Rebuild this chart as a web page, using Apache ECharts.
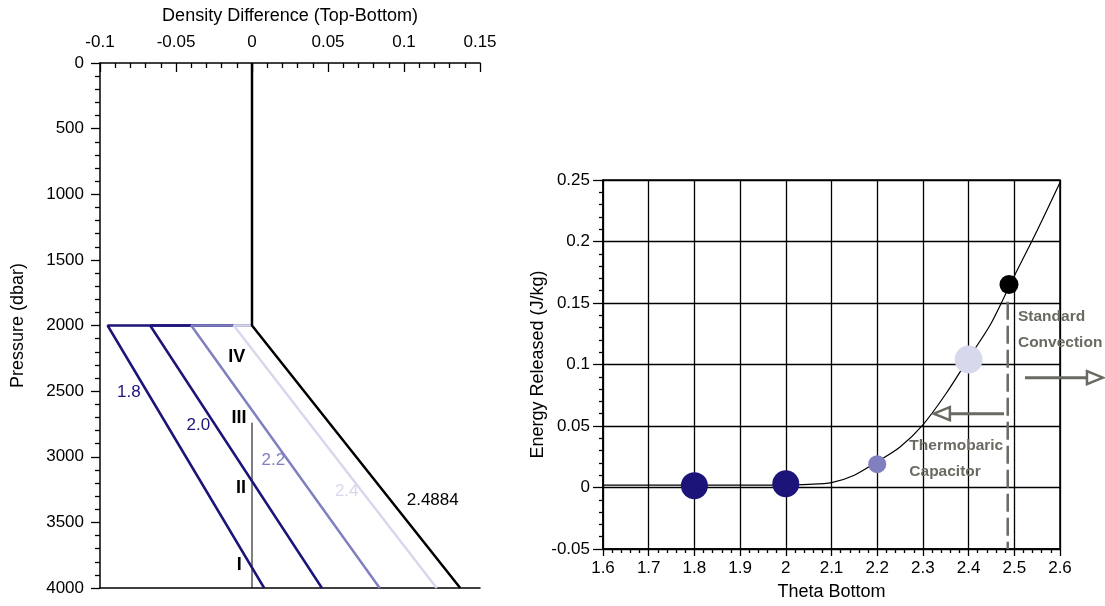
<!DOCTYPE html>
<html><head><meta charset="utf-8">
<script src="https://cdn.jsdelivr.net/npm/echarts@6/dist/echarts.min.js"></script>
<style>html,body{margin:0;padding:0;background:#fff}#c{width:1105px;height:606px}</style>
</head><body><div id="c"></div>
<script>
// ---------- Left panel data: density difference profiles ----------
const profileNames   = ['1.8', '2.0', '2.2', '2.4', '2.4884'];
const densityAt2000  = [-0.095, -0.067, -0.040, -0.012, 0];
const densityAt4000  = [0.008, 0.046, 0.084, 0.1215, 0.137];
const pressureTop    = 0;
const pressureKink   = 2000;
const pressureBottom = 4000;
const refLineP       = [2740, 4000];          // thin reference line at zero
const profileLabelX  = [-0.081, -0.0353, 0.014, 0.0623, 0.1189];
const profileLabelP  = [2509, 2758, 3030, 3266, 3330];
const regimeNames    = ['IV', 'III', 'II', 'I'];
const regimeLabelX   = [-0.010, -0.0086, -0.0072, -0.0084];
const regimeLabelP   = [2242, 2707, 3236, 3825];

// ---------- Right panel data: energy released ----------
const thetaCurve  = [1.6, 1.7, 1.8, 1.9, 2.0, 2.05, 2.1, 2.15, 2.2, 2.25, 2.3, 2.35, 2.4, 2.45, 2.5, 2.55, 2.6];
const energyCurve = [0.002, 0.002, 0.002, 0.002, 0.002, 0.0025, 0.004, 0.010, 0.021, 0.033, 0.051, 0.076, 0.105, 0.134, 0.172, 0.209, 0.248];
const thetaDots   = [1.8, 2.0, 2.2, 2.4, 2.4884];
const energyDots  = [0.0015, 0.003, 0.019, 0.104, 0.165];
const criticalTheta = 2.4856;
const criticalEnergyRange = [0.151, -0.05];
const arrowLeftFrom  = [2.4775, 0.060];
const arrowLeftTo    = [2.324, 0.060];
const arrowRightFrom = [2.5234, 0.0893];
const arrowRightTo   = [2.694, 0.0893];
const annotLines  = ['Standard', 'Convection', 'Thermobaric', 'Capacitor'];
const annotTheta  = [2.508, 2.508, 2.2703, 2.2703];
const annotEnergy = [0.139, 0.1177, 0.0342, 0.0131];

// ---------- Styles ----------
const profileColors = ['#1c1478', '#1c1478', '#8080c0', '#d8d8ec', '#000000'];
const dotColors     = ['#1c1478', '#1c1478', '#8080c0', '#d8d8ec', '#000000'];
const dotSizes      = [27, 27, 18, 28, 19];
const FONT = "'Liberation Sans', Arial, sans-serif";
const annotColor = '#6a6a62';

const chart = echarts.init(document.getElementById('c'), null, {renderer: 'canvas'});

const series = [];
profileNames.forEach((n, i) => {
  const last = i === profileNames.length - 1;
  const data = last
    ? [[0, pressureTop], [0, pressureKink], [densityAt4000[i], pressureBottom]]
    : [[0, pressureKink], [densityAt2000[i], pressureKink], [densityAt4000[i], pressureBottom]];
  series.push({
    type: 'line', xAxisIndex: 0, yAxisIndex: 0, data, symbol: 'none', silent: true,
    lineStyle: {color: profileColors[i], width: 2.5},
    z: 2 + i
  });
});
series.push({
  type: 'line', xAxisIndex: 0, yAxisIndex: 0, symbol: 'none', silent: true,
  data: refLineP.map(p => [0, p]), lineStyle: {color: '#000', width: 1}, z: 1
});
series.push({
  type: 'scatter', xAxisIndex: 0, yAxisIndex: 0, symbolSize: 0, silent: true, z: 10,
  itemStyle: {opacity: 1},
  data: profileNames.map((n, i) => ({
    name: n, value: [profileLabelX[i], profileLabelP[i]],
    label: {color: profileColors[i]}
  })),
  label: {show: true, position: 'inside', formatter: '{b}', fontSize: 17, fontFamily: FONT, textBorderWidth: 0, opacity: 1}
});
series.push({
  type: 'scatter', xAxisIndex: 0, yAxisIndex: 0, symbolSize: 0, silent: true, z: 10,
  itemStyle: {opacity: 1},
  data: regimeNames.map((n, i) => ({name: n, value: [regimeLabelX[i], regimeLabelP[i]]})),
  label: {show: true, position: 'inside', formatter: '{b}', fontSize: 18, fontWeight: 'bold', color: '#000', fontFamily: FONT, textBorderWidth: 0, opacity: 1}
});

series.push({
  type: 'line', xAxisIndex: 2, yAxisIndex: 1, symbol: 'none', smooth: 0.3, silent: true,
  data: thetaCurve.map((t, i) => [t, energyCurve[i]]),
  lineStyle: {color: '#000', width: 1.2}, z: 3
});
thetaDots.forEach((t, i) => {
  series.push({
    type: 'scatter', xAxisIndex: 2, yAxisIndex: 1, silent: true, z: 5,
    data: [[t, energyDots[i]]], symbolSize: dotSizes[i],
    itemStyle: {color: dotColors[i], opacity: 1}
  });
});
series.push({
  type: 'line', xAxisIndex: 2, yAxisIndex: 1, symbol: 'none', silent: true, z: 4,
  data: criticalEnergyRange.map(e => [criticalTheta, e]),
  lineStyle: {color: annotColor, width: 2.5, type: [18, 6]}
});
series.push({
  type: 'scatter', xAxisIndex: 2, yAxisIndex: 1, symbolSize: 0, silent: true, z: 10,
  itemStyle: {opacity: 1},
  data: annotLines.map((n, i) => ({name: n, value: [annotTheta[i], annotEnergy[i]]})),
  label: {show: true, position: 'right', distance: 0, formatter: '{b}', fontSize: 15.5, fontWeight: 'bold', color: annotColor, fontFamily: FONT, textBorderWidth: 0, opacity: 1}
});

const tickFont = {fontSize: 17, color: '#000', fontFamily: FONT};
const nameFont = {fontSize: 18, color: '#000', fontFamily: FONT};
const blackLine = {show: true, onZero: false, lineStyle: {color: '#000', width: 1.5}};
const plainNum = v => String(v);

chart.setOption({
  animation: false,
  backgroundColor: '#fff',
  grid: [
    {left: 100, top: 63, width: 380, height: 525, show: false},
    {left: 603, top: 180, width: 457, height: 369, show: true, borderColor: '#000', borderWidth: 1.5, backgroundColor: 'transparent'}
  ],
  xAxis: [
    {
      gridIndex: 0, type: 'value', position: 'top', min: -0.1, max: 0.15, interval: 0.05,
      name: 'Density Difference (Top-Bottom)', nameLocation: 'middle', nameGap: 38, nameTextStyle: nameFont,
      axisLine: blackLine,
      axisTick: {show: true, inside: true, length: 9, lineStyle: {color: '#000', width: 1.3}},
      minorTick: {show: true, splitNumber: 5, length: 5, lineStyle: {color: '#000', width: 1.3}},
      axisLabel: Object.assign({margin: 12, formatter: plainNum}, tickFont),
      splitLine: {show: false}
    },
    {
      gridIndex: 0, type: 'value', position: 'bottom', min: -0.1, max: 0.15,
      axisLine: blackLine, axisTick: {show: false}, axisLabel: {show: false}, splitLine: {show: false}
    },
    {
      gridIndex: 1, type: 'value', position: 'bottom', min: 1.6, max: 2.6, interval: 0.1,
      name: 'Theta Bottom', nameLocation: 'middle', nameGap: 34, nameTextStyle: nameFont,
      axisLine: blackLine,
      axisTick: {show: true, inside: false, length: 7, lineStyle: {color: '#000', width: 1.3}},
      minorTick: {show: true, splitNumber: 5, length: 4, lineStyle: {color: '#000', width: 1.3}},
      axisLabel: Object.assign({margin: 11}, tickFont),
      splitLine: {show: true, lineStyle: {color: '#000', width: 1.3}}
    }
  ],
  yAxis: [
    {
      gridIndex: 0, type: 'value', inverse: true, min: 0, max: 4000, interval: 500,
      name: 'Pressure (dbar)', nameLocation: 'middle', nameGap: 73, nameTextStyle: nameFont,
      axisLine: blackLine,
      axisTick: {show: true, inside: false, length: 9, lineStyle: {color: '#000', width: 1.3}},
      minorTick: {show: true, splitNumber: 5, length: 5, lineStyle: {color: '#000', width: 1.3}},
      axisLabel: Object.assign({margin: 16, formatter: plainNum}, tickFont),
      splitLine: {show: false}
    },
    {
      gridIndex: 1, type: 'value', min: -0.05, max: 0.25, interval: 0.05,
      name: 'Energy Released (J/kg)', nameLocation: 'middle', nameGap: 54, nameTextStyle: nameFont,
      axisLine: blackLine,
      axisTick: {show: true, inside: false, length: 10, lineStyle: {color: '#000', width: 1.3}},
      minorTick: {show: true, splitNumber: 5, length: 4, lineStyle: {color: '#000', width: 1.3}},
      axisLabel: Object.assign({margin: 13}, tickFont),
      splitLine: {show: true, lineStyle: {color: '#000', width: 1.3}}
    }
  ],
  series
});

// arrows (positions converted from data coordinates by the chart)
function arrowGraphics(from, to) {
  const a = chart.convertToPixel({gridIndex: 1}, from);
  const b = chart.convertToPixel({gridIndex: 1}, to);
  const dx = b[0] - a[0], dy = b[1] - a[1];
  const len = Math.hypot(dx, dy), ux = dx / len, uy = dy / len;
  const headL = 16, headW = 6.5;
  const base = [b[0] - ux * headL, b[1] - uy * headL];
  return [
    {type: 'polyline', silent: true, z: 20, shape: {points: [a, base]},
     style: {stroke: annotColor, lineWidth: 3, fill: null}},
    {type: 'polygon', silent: true, z: 20,
     shape: {points: [b, [base[0] - uy * headW, base[1] + ux * headW], [base[0] + uy * headW, base[1] - ux * headW]]},
     style: {stroke: annotColor, lineWidth: 2.5, fill: '#fff'}}
  ];
}
chart.setOption({graphic: [].concat(arrowGraphics(arrowLeftFrom, arrowLeftTo), arrowGraphics(arrowRightFrom, arrowRightTo))});
</script>
</body></html>
